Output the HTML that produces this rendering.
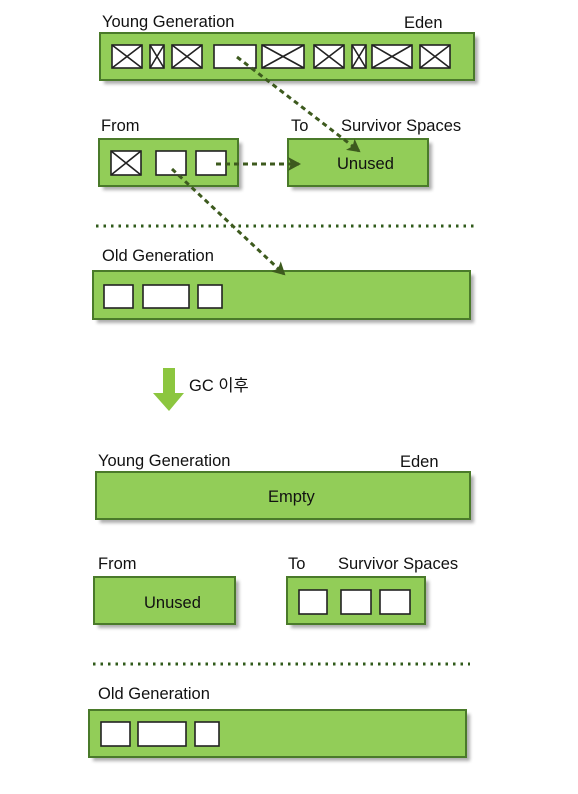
<!DOCTYPE html>
<html><head><meta charset="utf-8"><style>
html,body{margin:0;padding:0;background:#fff;width:578px;height:794px;overflow:hidden}
svg{display:block}
text{font-family:"Liberation Sans","Noto Sans CJK KR",sans-serif;font-size:16.5px;fill:#111}
</style></head><body>
<svg width="578" height="794" viewBox="0 0 578 794" xmlns="http://www.w3.org/2000/svg">
<defs>
<marker id="ah" markerWidth="14" markerHeight="14" refX="11" refY="7" orient="auto" markerUnits="userSpaceOnUse">
<path d="M0,0 L13,7 L0,14 L3,7 Z" fill="#3d5a1e"/></marker>
<filter id="bl" x="-5%" y="-20%" width="110%" height="140%"><feGaussianBlur stdDeviation="1.5"/></filter>
</defs>
<g stroke="#4a7a2a" stroke-width="2">
<g fill="#777" stroke="none" opacity="0.6" filter="url(#bl)">
<rect x="104" y="37" width="374" height="47"/>
<rect x="103" y="143" width="139" height="47"/>
<rect x="292" y="143" width="140" height="47"/>
<rect x="97" y="275" width="377" height="48"/>
<rect x="100" y="476" width="374" height="47"/>
<rect x="98" y="581" width="141" height="47"/>
<rect x="291" y="581" width="138" height="47"/>
<rect x="93" y="714" width="377" height="47"/>
</g>
<g fill="#92cd58">
<rect x="100" y="33" width="374" height="47"/>
<rect x="99" y="139" width="139" height="47"/>
<rect x="288" y="139" width="140" height="47"/>
<rect x="93" y="271" width="377" height="48"/>
<rect x="96" y="472" width="374" height="47"/>
<rect x="94" y="577" width="141" height="47"/>
<rect x="287" y="577" width="138" height="47"/>
<rect x="89" y="710" width="377" height="47"/>
</g>
</g>
<g fill="#fff" stroke="#222" stroke-width="1.6">
<rect x="112" y="45" width="30" height="23"/><path d="M112,45 L142,68 M142,45 L112,68"/>
<rect x="150" y="45" width="14" height="23"/><path d="M150,45 L164,68 M164,45 L150,68"/>
<rect x="172" y="45" width="30" height="23"/><path d="M172,45 L202,68 M202,45 L172,68"/>
<rect x="214" y="45" width="42" height="23"/>
<rect x="262" y="45" width="42" height="23"/><path d="M262,45 L304,68 M304,45 L262,68"/>
<rect x="314" y="45" width="30" height="23"/><path d="M314,45 L344,68 M344,45 L314,68"/>
<rect x="352" y="45" width="14" height="23"/><path d="M352,45 L366,68 M366,45 L352,68"/>
<rect x="372" y="45" width="40" height="23"/><path d="M372,45 L412,68 M412,45 L372,68"/>
<rect x="420" y="45" width="30" height="23"/><path d="M420,45 L450,68 M450,45 L420,68"/>
<rect x="111" y="151" width="30" height="24"/><path d="M111,151 L141,175 M141,151 L111,175"/>
<rect x="156" y="151" width="30" height="24"/>
<rect x="196" y="151" width="30" height="24"/>
<rect x="104" y="285" width="29" height="23"/>
<rect x="143" y="285" width="46" height="23"/>
<rect x="198" y="285" width="24" height="23"/>
<rect x="299" y="590" width="28" height="24"/>
<rect x="341" y="590" width="30" height="24"/>
<rect x="380" y="590" width="30" height="24"/>
<rect x="101" y="722" width="29" height="24"/>
<rect x="138" y="722" width="48" height="24"/>
<rect x="195" y="722" width="24" height="24"/>
</g>
<line x1="96" y1="226" x2="474" y2="226" stroke="#2f5a1a" stroke-width="3" stroke-dasharray="2.5,5"/>
<line x1="93" y1="664" x2="470" y2="664" stroke="#2f5a1a" stroke-width="3" stroke-dasharray="2.5,5"/>
<g stroke="#3d5a1e" stroke-width="3" stroke-dasharray="5,4" fill="none">
<line x1="237" y1="57" x2="359" y2="151" marker-end="url(#ah)"/>
<line x1="216" y1="164" x2="299" y2="164" marker-end="url(#ah)"/>
<line x1="172" y1="169" x2="284" y2="274" marker-end="url(#ah)"/>
</g>
<path d="M163,368 H175 V393 H184 L169,411 L153,393 H163 Z" fill="#8cc63f"/>
<text x="189" y="391">GC 이후</text>
<text x="102" y="27">Young Generation</text>
<text x="404" y="28">Eden</text>
<text x="101" y="131">From</text>
<text x="291" y="131">To</text>
<text x="341" y="131">Survivor Spaces</text>
<text x="337" y="169">Unused</text>
<text x="102" y="261">Old Generation</text>
<text x="98" y="466">Young Generation</text>
<text x="400" y="467">Eden</text>
<text x="268" y="502">Empty</text>
<text x="98" y="569">From</text>
<text x="288" y="569">To</text>
<text x="338" y="569">Survivor Spaces</text>
<text x="144" y="608">Unused</text>
<text x="98" y="699">Old Generation</text>
</svg>
</body></html>
